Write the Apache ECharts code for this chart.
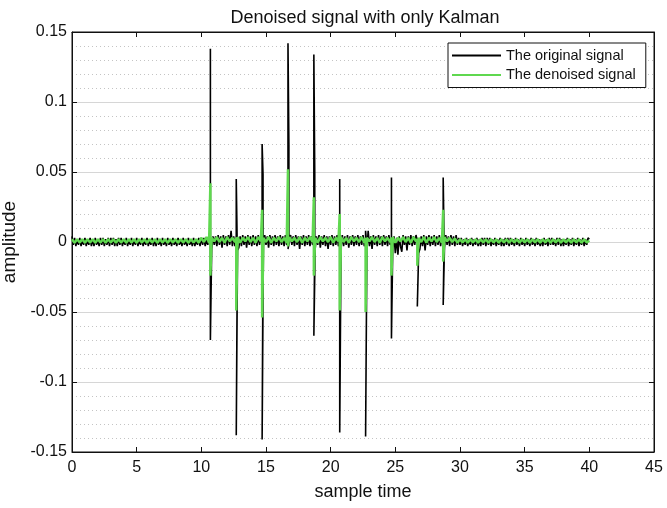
<!DOCTYPE html>
<html>
<head>
<meta charset="utf-8">
<script src="https://cdn.jsdelivr.net/npm/echarts@6/dist/echarts.min.js"></script>
<style>
html,body{margin:0;padding:0;background:#fff;}
#chart{width:667px;height:508px;}
</style>
</head>
<body>
<div id="chart"></div>
<script>
// ---------- DATA (amplitudes in units of 0.001) ----------
const titleText = 'Denoised signal with only Kalman';
const seriesNames = ['The original signal', 'The denoised signal'];
const xTicks = [0, 5, 10, 15, 20, 25, 30, 35, 40, 45];
const yTicks = [-0.15, -0.1, -0.05, 0, 0.05, 0.1, 0.15];

// original signal, sampled every 0.1 from 0 to 40 (one row per unit of time)
const originalStep = 0.1;
const originalNoise = [
  4,-2,3,-3,2,-2,3,-3,2,-2,
  3,-3,2,-2,3,-3,2,-3,3,-2,
  2,-3,3,-2,3,-3,2,-2,3,-3,
  3,-2,3,-3,2,-3,3,-2,3,-3,
  2,-2,3,-3,2,-2,3,-3,2,-2,
  3,-3,2,-2,3,-3,2,-2,3,-3,
  2,-2,3,-3,2,-3,3,-2,2,-3,
  3,-2,2,-3,3,-2,2,-3,3,-2,
  2,-3,3,-2,2,-3,3,-2,2,-3,
  3,-2,2,-3,3,-3,2,-2,3,-3,
  3,-2,3,-3,2,-2,6,0,-5,4,
  -2,4,-3,5,-2,4,-4,5,-2,4,
  -3,5,-2,8,-3,4,-3,0,-6,-4,
  4,-3,5,-2,4,-4,5,-2,4,-3,
  5,-2,4,-3,5,-2,4,0,-3,5,
  -2,4,-4,5,-2,4,-3,5,-2,4,
  -3,5,-2,4,-3,5,-2,0,-4,5,
  -2,4,-3,5,-2,4,-5,4,-2,5,
  -3,4,-2,5,-3,4,-2,0,-5,4,
  -2,5,-4,4,-2,5,-3,4,-5,4,
  -2,5,-3,4,-2,5,-3,0,-4,5,
  -3,4,-2,5,-4,4,-2,5,-3,4,
  -2,5,-3,4,-2,5,-3,0,-6,8,
  -3,4,-5,5,-2,4,-3,5,-2,4,
  -3,5,-2,4,-3,5,-2,0,-4,4,
  -8,3,-9,4,-3,-7,5,-2,4,-6,
  4,-2,5,-3,4,-2,5,0,-8,-5,
  4,-3,5,-6,4,-2,5,-3,4,-2,
  5,-3,4,-2,5,-3,4,0,-4,5,
  -2,4,-3,5,-2,4,-3,5,-2,3,
  -2,3,-3,2,-2,3,-3,2,-2,3,
  -3,2,-2,3,-3,2,-3,3,-2,3,
  -3,3,-2,3,-3,2,-2,3,-3,2,
  -2,3,-3,2,-3,3,-2,3,-3,3,
  -2,2,-3,3,-2,2,-3,3,-2,2,
  -3,3,-2,2,-3,3,-2,2,-3,3,
  -2,2,-3,2,-3,3,-2,2,-3,3,
  -2,3,-2,2,-3,3,-2,3,-3,2,
  -3,2,-2,3,-3,2,-2,3,-3,2,
  -2,3,-3,2,-2,3,-3,2,-2,3,
  2
];

// denoised signal, sampled every 0.2 from 0 to 40 (one row per 2 units of time)
const denoisedStep = 0.2;
const denoisedNoise = [
  2,-0.5,2,-0.3,2,-0.5,2,-0.3,2,-0.5,
  2,-0.3,2,-0.5,2,-0.3,2,-0.5,2,-0.3,
  2,-0.5,2,-0.3,2,-0.5,2,-0.3,2,-0.5,
  2,-0.3,2,-0.5,2,-0.3,2,-0.5,2,-0.3,
  2,-0.5,2,-0.3,2,-0.5,2,-0.3,2,-0.5,
  3,0,3.5,-0.5,3,0.5,3.5,0,3,-0.5,
  3.5,0.5,3,0,3.5,-0.5,3,0.5,3.5,0,
  3,-0.5,3.5,0.5,3,0,3.5,-0.5,3,0.5,
  3.5,0,3,-0.5,3.5,0.5,3,0,3.5,-0.5,
  3,0.5,3.5,0,3,-0.5,3.5,0.5,3,0,
  3.5,-0.5,3,0.5,3.5,0,3,-0.5,3.5,0.5,
  3,0,3.5,-0.5,3,0.5,3.5,0,3,-0.5,
  3.5,0.5,3,0,3.5,-0.5,3,0.5,3.5,0,
  3,-0.5,3.5,0.5,3,0,3.5,-0.5,3,0.5,
  3.5,0,3,-0.5,3.5,0.5,3,0,2.5,-0.5,
  2,-0.3,2,-0.5,2,-0.3,2,-0.5,2,-0.3,
  2,-0.5,2,-0.3,2,-0.5,2,-0.3,2,-0.5,
  2,-0.3,2,-0.5,2,-0.3,2,-0.5,2,-0.3,
  2,-0.5,2,-0.3,2,-0.5,2,-0.3,2,-0.5,
  2,-0.3,2,-0.5,2,-0.3,2,-0.5,2,-0.3,
  1
];

// impulse events
const spikeTimes      = [10.7, 12.7, 14.7, 16.7, 18.7, 20.7, 22.7, 24.7, 26.7, 28.7];
const originalPeaks   = [138, 45, 70, 142, 134, 45, 8, 46, 3, 46];
const originalTroughs = [-70, -138, -141, -5, -67, -136, -139, -69, -46, -45];
const originalEchoHigh = [null, 0, 48, 69, 48, null, 0, null, 0, 46];
const originalEchoLow  = [null, -32, -8, 0, 0, null, -45, null, -20, 0];
const denoisedPeaks   = [42, 3, 23, 52, 32, 20, 3, 3, 2, 23];
const denoisedTroughs = [-24, -49, -54, -3, -24, -49, -50, -24, -17, -14];

// ---------- BUILD ----------
const milli = v => v / 1000;
const echoShift = 0.07;

function buildPoints(step, noise, peaks, troughs, echoHigh, echoLow) {
  const pts = [];
  let k = 0;
  const pushSpike = (j) => {
    const T = spikeTimes[j];
    pts.push([T, milli(peaks[j])]);
    if (echoHigh && echoHigh[j] !== null) {
      pts.push([T + echoShift, milli(echoHigh[j])]);
      pts.push([T + echoShift, milli(echoLow[j])]);
    }
    pts.push([T, milli(troughs[j])]);
  };
  for (let i = 0; i < noise.length; i++) {
    const t = +(i * step).toFixed(3);
    while (k < spikeTimes.length && spikeTimes[k] < t - 1e-9) { pushSpike(k); k++; }
    pts.push([t, milli(noise[i])]);
    while (k < spikeTimes.length && Math.abs(spikeTimes[k] - t) < 1e-9) { pushSpike(k); k++; }
  }
  return pts;
}

const originalData = buildPoints(originalStep, originalNoise, originalPeaks, originalTroughs, originalEchoHigh, originalEchoLow);
const denoisedData = buildPoints(denoisedStep, denoisedNoise, denoisedPeaks, denoisedTroughs, null, null);

const FONT = 'Liberation Sans, Arial, Helvetica, sans-serif';
const GREEN = '#5fd84f';
const xMin = xTicks[0], xMax = xTicks[xTicks.length - 1], xInt = xTicks[1] - xTicks[0];
const yMin = yTicks[0], yMax = yTicks[yTicks.length - 1], yInt = 0.05;

const tickStyle = {show: true, inside: true, length: 5, lineStyle: {color: '#111'}};
const lineStyleAxis = {show: true, onZero: false, lineStyle: {color: '#111'}};

const chart = echarts.init(document.getElementById('chart'), null, {renderer: 'canvas'});
chart.setOption({
  animation: false,
  backgroundColor: '#fff',
  title: {
    text: titleText,
    left: 360, top: 4, textAlign: 'center',
    textStyle: {fontFamily: FONT, fontSize: 18, fontWeight: 'normal', color: '#111'}
  },
  legend: {
    data: seriesNames.map(n => ({name: n, icon: 'rect'})),
    orient: 'vertical',
    left: 448, top: 43,
    padding: [4, 10, 4, 4],
    itemGap: 2.5,
    itemWidth: 49, itemHeight: 2,
    backgroundColor: '#fff',
    borderColor: '#111', borderWidth: 1, borderRadius: 0,
    textStyle: {fontFamily: FONT, fontSize: 14.5, color: '#111', lineHeight: 17}
  },
  grid: {
    left: 72, right: 13, top: 32, bottom: 56,
    outerBoundsMode: 'none', containLabel: false,
    show: true, borderColor: '#111', borderWidth: 1, backgroundColor: 'transparent'
  },
  xAxis: [{
    type: 'value', min: xMin, max: xMax, interval: xInt,
    name: 'sample time', nameLocation: 'middle', nameGap: 31,
    nameTextStyle: {fontFamily: FONT, fontSize: 18, color: '#111'},
    axisLine: lineStyleAxis,
    axisTick: tickStyle,
    axisLabel: {fontFamily: FONT, fontSize: 16, color: '#111', margin: 8},
    splitLine: {show: false}
  }, {
    type: 'value', min: xMin, max: xMax, interval: xInt, position: 'top',
    axisLine: lineStyleAxis,
    axisTick: tickStyle,
    axisLabel: {show: false}, splitLine: {show: false}
  }],
  yAxis: [{
    type: 'value', min: yMin, max: yMax, interval: yInt,
    name: 'amplitude', nameLocation: 'middle', nameGap: 47,
    nameTextStyle: {fontFamily: FONT, fontSize: 19, color: '#111'},
    axisLine: lineStyleAxis,
    axisTick: tickStyle,
    axisLabel: {
      fontFamily: FONT, fontSize: 16, color: '#111', margin: 5,
      formatter: v => String(parseFloat(v.toFixed(2)))
    },
    splitLine: {show: true, lineStyle: {color: '#d6d6d6', width: 1}},
    minorTick: {show: false, splitNumber: 5},
    minorSplitLine: {show: true, lineStyle: {color: '#c4c4c4', width: 1, type: [1, 3]}}
  }, {
    type: 'value', min: yMin, max: yMax, interval: yInt, position: 'right',
    axisLine: lineStyleAxis,
    axisTick: tickStyle,
    axisLabel: {show: false}, splitLine: {show: false}
  }],
  series: [{
    name: seriesNames[0], type: 'line', data: originalData,
    symbol: 'none', showSymbol: false,
    lineStyle: {color: '#000', width: 1.6},
    itemStyle: {color: '#000'},
    z: 2
  }, {
    name: seriesNames[1], type: 'line', data: denoisedData,
    symbol: 'none', showSymbol: false,
    lineStyle: {color: GREEN, width: 2.5},
    itemStyle: {color: GREEN},
    z: 3
  }]
});
</script>
</body>
</html>
